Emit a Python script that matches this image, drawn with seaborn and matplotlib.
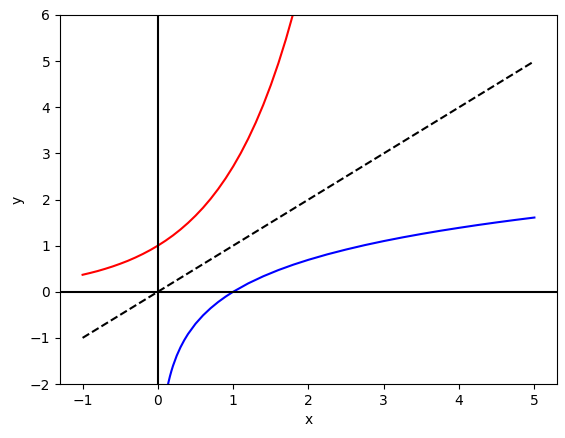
import matplotlib
matplotlib.use("Agg")
import matplotlib.pyplot as plt
import seaborn as sns


# Red curve (exponential)
exp_x = [-1.0, -0.9, -0.8, -0.7, -0.6, -0.5, -0.4, -0.3, -0.2, -0.1,
         0.0, 0.1, 0.2, 0.3, 0.4, 0.5, 0.6, 0.7, 0.8, 0.9,
         1.0, 1.1, 1.2, 1.3, 1.4, 1.5, 1.6, 1.7, 1.8, 1.9]
exp_y = [0.368, 0.407, 0.449, 0.497, 0.549, 0.607, 0.670, 0.741, 0.819, 0.905,
         1.000, 1.105, 1.221, 1.350, 1.492, 1.649, 1.822, 2.014, 2.226, 2.460,
         2.718, 3.004, 3.320, 3.669, 4.055, 4.482, 4.953, 5.474, 6.050, 6.686]

# Blue curve (logarithm)
log_x = [0.12, 0.14, 0.16, 0.18, 0.2, 0.25, 0.3, 0.35, 0.4, 0.5,
         0.6, 0.7, 0.8, 0.9, 1.0, 1.2, 1.4, 1.6, 1.8, 2.0,
         2.25, 2.5, 2.75, 3.0, 3.25, 3.5, 3.75, 4.0, 4.25, 4.5, 4.75, 5.0]
log_y = [-2.120, -1.966, -1.833, -1.715, -1.609, -1.386, -1.204, -1.050, -0.916, -0.693,
         -0.511, -0.357, -0.223, -0.105, 0.000, 0.182, 0.336, 0.470, 0.588, 0.693,
         0.811, 0.916, 1.012, 1.099, 1.179, 1.253, 1.322, 1.386, 1.447, 1.504, 1.558, 1.609]

# Dashed identity line
id_x = [-1, 5]
id_y = [-1, 5]


fig, ax = plt.subplots(figsize=(5.65, 4.38), dpi=100)
fig.subplots_adjust(left=60 / 565, right=557 / 565,
                    top=1 - 15 / 438, bottom=1 - 384 / 438)

sns.lineplot(x=exp_x, y=exp_y, color="red", ax=ax)
sns.lineplot(x=log_x, y=log_y, color="blue", ax=ax)
sns.lineplot(x=id_x, y=id_y, color="black", linestyle="--", ax=ax)

ax.axhline(0, color="black")
ax.axvline(0, color="black")

ax.set_xlim(-1.3, 5.3)
ax.set_ylim(-2, 6)
ax.set_xlabel("x")
ax.set_ylabel("y")

plt.savefig("out.png", dpi=100)
plt.close()
